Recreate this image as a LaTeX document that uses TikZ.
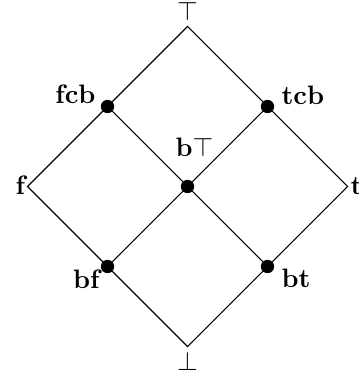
\documentclass[tikz,border=0pt]{standalone}
\begin{document}
\begin{tikzpicture}[x=0.375pt,y=-0.375pt,
  dot/.style={circle,fill=black,inner sep=0pt,minimum size=5pt},
  lbl/.style={inner sep=0pt,font=\bfseries}]
\useasboundingbox (0,0) rectangle (358,376);
% corners of the lattice
\coordinate (top) at (187.5,26.5);
\coordinate (bot) at (187.5,346.5);
\coordinate (f)   at (27.5,186.5);
\coordinate (t)   at (347.5,186.5);
% inner elements
\node[dot] (fcb) at (107.5,106.5) {};
\node[dot] (tcb) at (267.5,106.5) {};
\node[dot] (bT)  at (187.5,186.5) {};
\node[dot] (bf)  at (107.5,266.5) {};
\node[dot] (bt)  at (267.5,266.5) {};
% edges
\draw (top) -- (fcb.center) -- (f) -- (bf.center) -- (bot) -- (bt.center) -- (t) -- (tcb.center) -- cycle;
\draw (fcb.center) -- (bT.center) -- (bt.center);
\draw (tcb.center) -- (bT.center) -- (bf.center);
% labels
\node[lbl,anchor=base] (ltop) at (187.5,21) {$\top$};
\node[lbl,anchor=base] (lbot) at (187.5,370) {$\bot$};
\node[lbl,anchor=base east] (lf) at (25.5,195) {f};
\node[lbl,anchor=base west] (lt) at (350,195) {t};
\node[lbl,anchor=base east] (lfcb) at (96,104) {fcb};
\node[lbl,anchor=base west] (ltcb) at (281,105) {tcb};
\node[lbl,anchor=base west] (lbT) at (175,157) {b$\top$};
\node[lbl,anchor=base east] (lbf) at (100,288) {bf};
\node[lbl,anchor=base west] (lbt) at (281,287) {bt};
\end{tikzpicture}
\end{document}
